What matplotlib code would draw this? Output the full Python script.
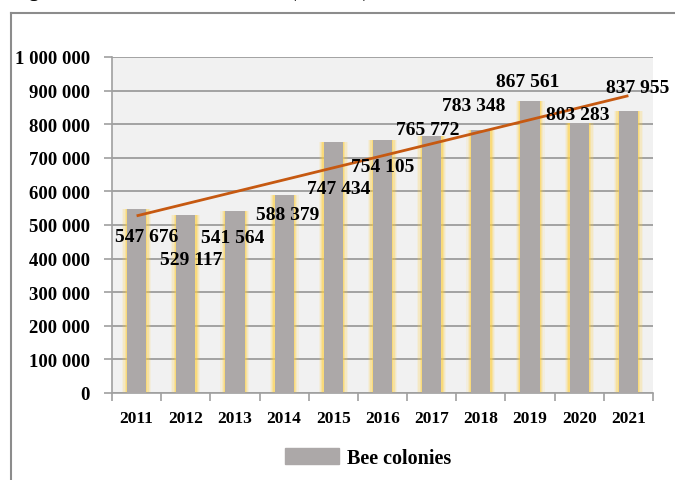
import matplotlib
matplotlib.use("Agg")
import matplotlib.pyplot as plt
import numpy as np
from matplotlib.lines import Line2D
from matplotlib.ticker import FuncFormatter, FixedLocator

years = ["2011", "2012", "2013", "2014", "2015", "2016", "2017", "2018", "2019", "2020", "2021"]
colonies = [547676, 529117, 541564, 588379, 747434, 754105, 765772, 783348, 867561, 803283, 837955]
series_name = "Bee colonies"
title_text = "Figure 1. Number of bee colonies (number)"

# label offsets (pixels) relative to bar tops - styling only
label_dx = [10, 5, -2, 4, 5, 0, -4, -7, -2, -1, 9]
label_dy = [-28, -44, -26, -19, -47, -27, 6, 24, 20, 9, 24]

FONT = "Liberation Serif"
W, H = 675, 481
fig = plt.figure(figsize=(W / 100, H / 100), dpi=100)
fig.patch.set_facecolor("white")

ax = fig.add_axes([112 / W, (H - 394) / H, (653 - 112) / W, (394 - 58) / H])
ax.set_facecolor("#f1f1f1")

x = np.arange(len(years))
bw = 0.39
# yellow glow around bars
for k, a in zip([0.20, 0.15, 0.10, 0.05], [0.10, 0.16, 0.26, 0.40]):
    ax.bar(x, colonies, width=bw + k, color="#ffd040", alpha=a, zorder=2, linewidth=0)
ax.bar(x, colonies, width=bw, color="#aca8a8", zorder=3, linewidth=0, label=series_name)

# linear trend
coef = np.polyfit(x, colonies, 1)
ax.plot(x, np.polyval(coef, x), color="#c65911", linewidth=2.0, zorder=5, solid_capstyle="butt")

ax.set_xlim(-0.5, len(years) - 0.5)
ax.set_ylim(0, 1000000)
ax.yaxis.set_major_locator(FixedLocator(np.arange(0, 1000001, 100000)))
ax.yaxis.set_major_formatter(FuncFormatter(lambda v, p: f"{int(v):,}".replace(",", " ")))
ax.grid(axis="y", color="#9c9c9c", linewidth=1.3, zorder=1)
ax.set_axisbelow(True)

ax.set_xticks(x)
ax.set_xticklabels(years)
ax.set_xticks(np.arange(-0.5, len(years), 1), minor=True)
ax.tick_params(axis="x", which="major", length=0, pad=12)
ax.tick_params(axis="x", which="minor", length=6, color="#a0a0a0", width=1.2)
ax.tick_params(axis="y", length=6, color="#a0a0a0", width=1.2, pad=10)

for lab in ax.get_xticklabels():
    lab.set_fontfamily(FONT)
    lab.set_fontweight("bold")
    lab.set_fontsize(12.5)
for lab in ax.get_yticklabels():
    lab.set_fontfamily(FONT)
    lab.set_fontweight("bold")
    lab.set_fontsize(13.5)

for s in ["top", "right"]:
    ax.spines[s].set_visible(False)
for s in ["left", "bottom"]:
    ax.spines[s].set_color("#a0a0a0")
    ax.spines[s].set_linewidth(1.2)

# data labels
for i, v in enumerate(colonies):
    ax.annotate(f"{v:,}".replace(",", " "), xy=(i, v), xytext=(label_dx[i], label_dy[i]),
                textcoords="offset pixels", ha="center", va="center",
                fontfamily=FONT, fontweight="bold", fontsize=14, zorder=6)

# legend
leg = fig.legend(handles=[plt.Rectangle((0, 0), 1, 1, color="#aca8a8")], labels=[series_name],
                 loc="center", bbox_to_anchor=(368 / W, (H - 459) / H), frameon=False,
                 prop={"family": FONT, "weight": "bold", "size": 14.5},
                 handlelength=2.7, handleheight=0.8, handletextpad=0.4)

# outer frame (partial)
fig.add_artist(Line2D([11 / W, 11 / W], [0, (H - 14) / H], color="#8c8c8c", linewidth=1.5))
fig.add_artist(Line2D([11 / W, 1.0], [(H - 14) / H, (H - 14) / H], color="#8c8c8c", linewidth=1.5))

# title cut off at the top of the image (as in the reference)
fig.text(12 / W, 1 + 3 / H, title_text, ha="left", va="baseline",
         fontfamily=FONT, fontweight="bold", fontsize=14)

fig.savefig("out.png", dpi=100)
